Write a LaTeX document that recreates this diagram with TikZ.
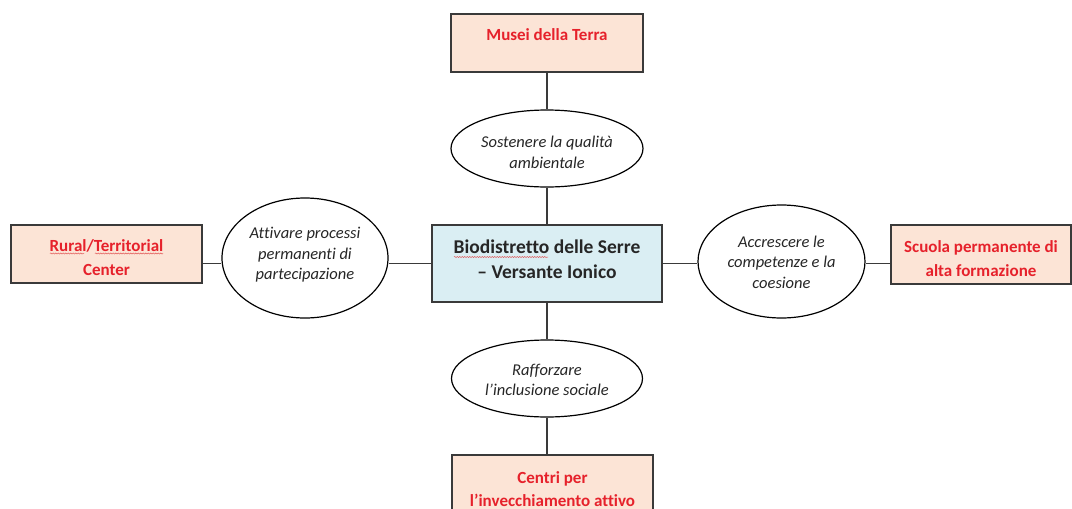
\documentclass[tikz,border=0pt]{standalone}
\usepackage{fontspec}
\setmainfont{Carlito}[Ligatures=NoCommon]
\usetikzlibrary{shapes.geometric,decorations.pathmorphing}
\definecolor{peach}{HTML}{FCE4D6}
\definecolor{lblue}{HTML}{DAEEF3}
\definecolor{redtxt}{HTML}{E6212B}
\definecolor{bord}{HTML}{3A3A3A}
\definecolor{ink}{HTML}{262626}
\definecolor{squig}{HTML}{E05050}
\tikzset{
  pbox/.style={draw=bord, line width=1.4pt, fill=peach, inner sep=0pt},
  cbox/.style={draw=bord, line width=1.4pt, fill=lblue, inner sep=0pt},
  btext/.style={text=redtxt, font=\fontsize{17}{23.5}\selectfont\bfseries, align=center, inner sep=0pt},
  ctext/.style={text=ink, font=\fontsize{19.5}{25}\selectfont\bfseries, align=center, inner sep=0pt},
  oval/.style={draw=black, line width=1.2pt, fill=white, ellipse, inner sep=0pt},
  otext/.style={text=ink, font=\fontsize{16.5}{20.5}\selectfont\itshape, align=center, inner sep=0pt},
  conn/.style={draw=bord, line width=1.3pt},
  spell/.style={draw=squig, line width=0.5pt, decorate, decoration={snake, amplitude=0.5pt, segment length=2.5pt}}
}
\begin{document}
\begin{tikzpicture}[x=1pt,y=-1pt]
\useasboundingbox[fill=white] (0,0) rectangle (1072,509);
\begin{scope}
\clip (0,0) rectangle (1072,509);
% boxes
\node[pbox, minimum width=192pt, minimum height=58pt] (musei) at (547,43) {};
\node[pbox, minimum width=191pt, minimum height=58pt] (rural) at (106.5,254) {};
\node[pbox, minimum width=180pt, minimum height=59pt] (scuola) at (981,254.5) {};
\node[pbox, minimum width=201pt, minimum height=70pt] (centri) at (552.5,490) {};
\node[cbox, minimum width=230pt, minimum height=77pt] (bio) at (547,263.5) {};
% ellipses
\node[oval, minimum width=192pt, minimum height=77pt] (sost) at (547,148.5) {};
\node[oval, minimum width=166pt, minimum height=120pt] (attiv) at (305,258) {};
\node[oval, minimum width=167pt, minimum height=113pt] (accr) at (781.5,261.5) {};
\node[oval, minimum width=191pt, minimum height=77pt] (raff) at (547,378.5) {};
% connectors
\draw[conn] (musei.south) -- (sost.north);
\draw[conn] (sost.south) -- (bio.north);
\draw[conn] (bio.south) -- (raff.north);
\draw[conn] (raff.south) -- (raff.south |- centri.north);
\draw[conn] (rural.east |- bio.west) -- (attiv.west |- bio.west);
\draw[conn] (attiv.east |- bio.west) -- (bio.west);
\draw[conn] (bio.east) -- (accr.west |- bio.east);
\draw[conn] (accr.east |- bio.east) -- (scuola.west |- bio.east);
% texts
\node[btext] (museit) at (547,35) {Musei della Terra};
\node[btext] (ruralt) at (106.5,257.5) {Rural/Territorial\\Center};
\node[btext] (scuolat) at (981,258.5) {Scuola permanente di\\alta formazione};
\node[btext] (centrit) at (552.5,489) {Centri per\\l’invecchiamento attivo};
\node[ctext] (biot) at (547,259.5) {Biodistretto delle Serre\\– Versante Ionico};
\node[otext] (sostt) at (547,152.5) {Sostenere la qualità\\ambientale};
\node[otext] (attivt) at (305,255) {Attivare processi\\permanenti di\\partecipazione};
\node[otext] (accrt) at (781.5,262) {Accrescere le\\competenze e la\\coesione};
\node[otext] (rafft) at (547,380) {Rafforzare\\l’inclusione sociale};
% spell-check underlines
\draw[spell] (50,253.5) -- (84,253.5);
\draw[spell] (95,253.5) -- (163,253.5);
\draw[spell] (454,257) -- (548,257);
\end{scope}
\end{tikzpicture}
\end{document}
